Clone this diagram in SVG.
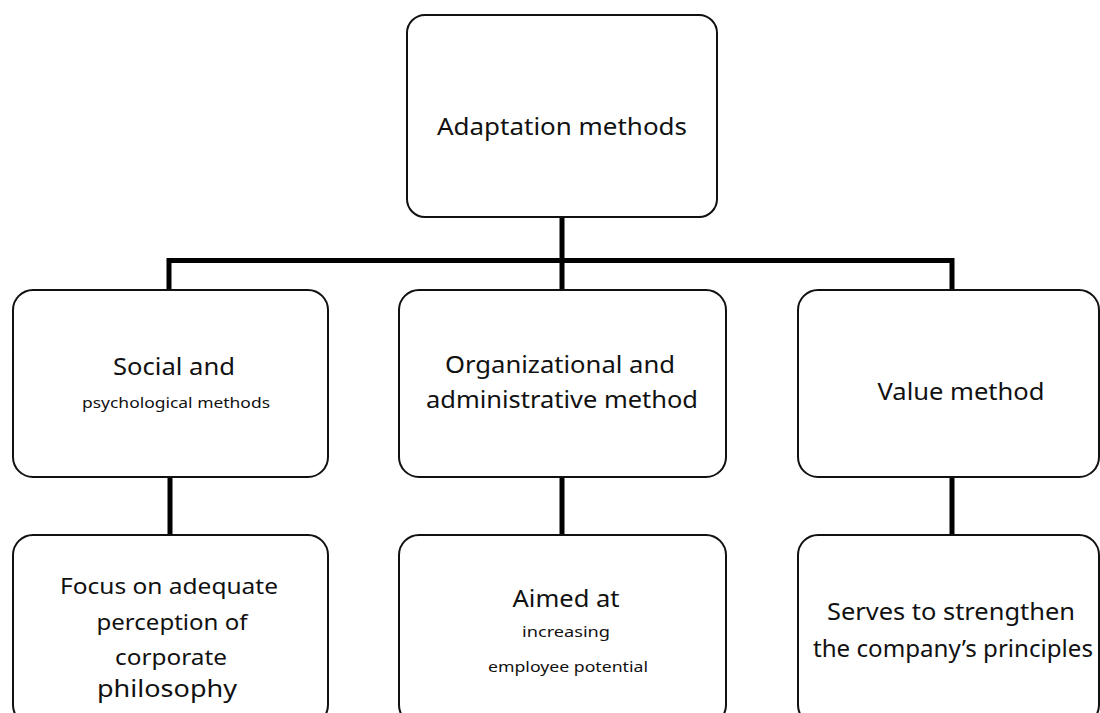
<svg xmlns="http://www.w3.org/2000/svg" width="1100" height="713" viewBox="0 0 1100 713">
<style>
.box{fill:#fff;stroke:#111;stroke-width:2}
.con{fill:none;stroke:#000;stroke-width:5}
text{font-family:"Noto Sans","Open Sans","Liberation Sans",sans-serif;fill:#111;text-anchor:middle}
.l{font-size:24px}
.m{font-size:21px}
.s{font-size:15px}
</style>
<rect width="1100" height="713" fill="#fff"/>
<g id="connectors">
<line class="con" x1="562" y1="217" x2="562" y2="290"/>
<polyline class="con" points="169,290 169,260.5 952,260.5 952,290"/>
<line class="con" x1="170" y1="477" x2="170" y2="535"/>
<line class="con" x1="562" y1="477" x2="562" y2="535"/>
<line class="con" x1="952" y1="477" x2="952" y2="535"/>
</g>
<g id="root">
<rect class="box" x="407" y="15" width="310" height="202" rx="18"/>
<text class="l" x="562" y="135" textLength="250" lengthAdjust="spacingAndGlyphs">Adaptation methods</text>
</g>
<g id="social">
<rect class="box" x="13" y="290" width="315" height="187" rx="20"/>
<text class="l" x="174" y="375" textLength="122" lengthAdjust="spacingAndGlyphs">Social and</text>
<text class="s" x="176" y="408" textLength="188" lengthAdjust="spacingAndGlyphs">psychological methods</text>
</g>
<g id="organizational">
<rect class="box" x="399" y="290" width="327" height="187" rx="20"/>
<text class="l" x="560" y="373" textLength="230" lengthAdjust="spacingAndGlyphs">Organizational and</text>
<text class="l" x="562" y="408" textLength="272" lengthAdjust="spacingAndGlyphs">administrative method</text>
</g>
<g id="value">
<rect class="box" x="798" y="290" width="301" height="187" rx="20"/>
<text class="l" x="961" y="400" textLength="167" lengthAdjust="spacingAndGlyphs">Value method</text>
</g>
<g id="social-detail">
<rect class="box" x="13" y="535" width="315" height="190" rx="20"/>
<text class="m" x="169" y="594" textLength="218" lengthAdjust="spacingAndGlyphs">Focus on adequate</text>
<text class="m" x="172" y="630" textLength="151" lengthAdjust="spacingAndGlyphs">perception of</text>
<text class="m" x="171" y="665" textLength="112" lengthAdjust="spacingAndGlyphs">corporate</text>
<text class="l" x="167" y="697" textLength="140" lengthAdjust="spacingAndGlyphs">philosophy</text>
</g>
<g id="organizational-detail">
<rect class="box" x="399" y="535" width="327" height="190" rx="20"/>
<text class="l" x="566" y="607" textLength="107" lengthAdjust="spacingAndGlyphs">Aimed at</text>
<text class="s" x="566" y="637" textLength="88" lengthAdjust="spacingAndGlyphs">increasing</text>
<text class="s" x="568" y="672" textLength="160" lengthAdjust="spacingAndGlyphs">employee potential</text>
</g>
<g id="value-detail">
<rect class="box" x="798" y="535" width="301" height="190" rx="20"/>
<text class="l" x="951" y="620" textLength="248" lengthAdjust="spacingAndGlyphs">Serves to strengthen</text>
<text class="l" x="953" y="657" textLength="280" lengthAdjust="spacingAndGlyphs">the company’s principles</text>
</g>
</svg>
